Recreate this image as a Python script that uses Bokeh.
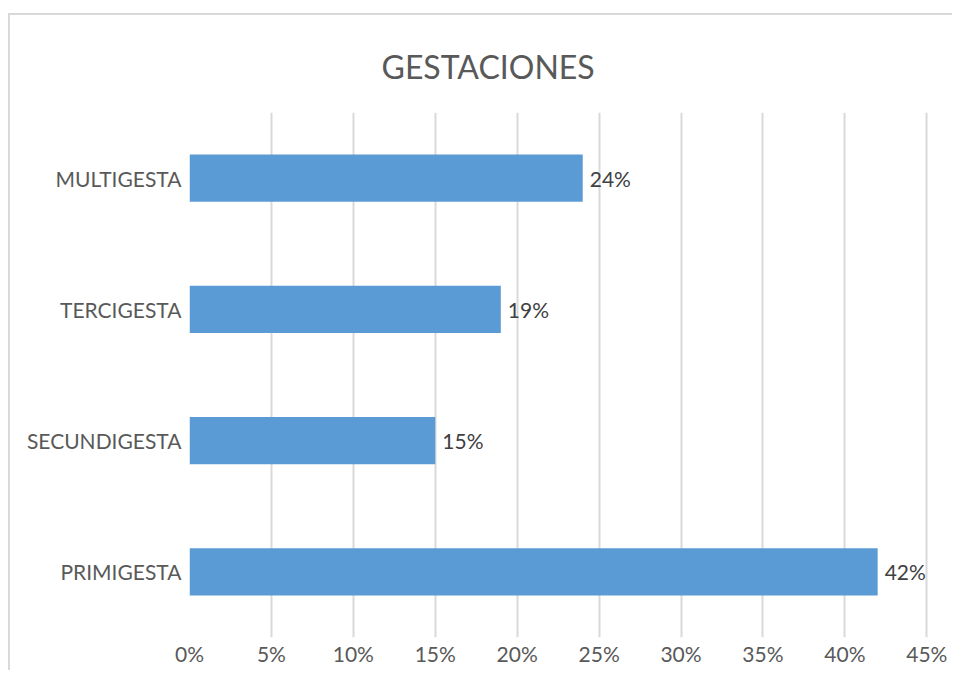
from bokeh.plotting import figure
from bokeh.models import ColumnDataSource, Range1d, FixedTicker, Title
from bokeh.core.properties import value
from bokeh.embed import file_html
from bokeh.resources import INLINE

# data (bottom to top as drawn)
categories = ["PRIMIGESTA", "SECUNDIGESTA", "TERCIGESTA", "MULTIGESTA"]
percentages = [42, 15, 19, 24]
value_labels = ["42%", "15%", "19%", "24%"]
x_ticks = [0, 5, 10, 15, 20, 25, 30, 35, 40, 45]
x_tick_labels = {t: f"{t}%" for t in x_ticks}
title_text = "GESTACIONES"

FONT = "Lato"

y_pos = [i + 0.5 for i in range(len(categories))]
src = ColumnDataSource(dict(y=y_pos, pct=percentages, lab=value_labels))

p = figure(
    width=944, height=657,
    y_range=Range1d(0, len(categories)),
    x_range=Range1d(0, 46.69),
    output_backend="svg", toolbar_location=None,
    min_border_left=179, min_border_right=0, min_border_top=97, min_border_bottom=35,
)
p.styles = {"margin-left": "8px", "margin-top": "13px",
            "border-left": "2px solid #d9d9d9", "border-top": "2px solid #d9d9d9"}
p.outline_line_color = None
p.background_fill_color = "white"
p.border_fill_color = "white"

p.title = Title(text=title_text, align="left", offset=192, standoff=54,
                text_font=FONT, text_font_size="32px", text_font_style="normal",
                text_color="#595959")

p.hbar(y="y", right="pct", height=0.36, source=src, color="#5b9bd5", line_color=None)

p.text(x="pct", y="y", text="lab", source=src, x_offset=7,
       text_baseline="middle", text_align="left",
       text_font=value(FONT), text_font_size="21px", text_color="#404040")

p.xaxis.ticker = FixedTicker(ticks=x_ticks)
p.xaxis.major_label_overrides = x_tick_labels
p.xaxis.axis_line_color = None
p.xaxis.major_tick_line_color = None
p.xaxis.minor_tick_line_color = None
p.xaxis.major_tick_out = 0
p.xaxis.major_label_standoff = 3
p.xaxis.major_label_text_font = FONT
p.xaxis.major_label_text_font_size = "21px"
p.xaxis.major_label_text_color = "#595959"

p.yaxis.ticker = FixedTicker(ticks=y_pos)
p.yaxis.major_label_overrides = {y: c for y, c in zip(y_pos, categories)}
p.yaxis.axis_line_color = None
p.yaxis.major_tick_line_color = None
p.yaxis.minor_tick_line_color = None
p.yaxis.major_tick_out = 0
p.yaxis.major_label_standoff = 8
p.yaxis.major_label_text_font = FONT
p.yaxis.major_label_text_font_size = "21px"
p.yaxis.major_label_text_color = "#595959"

p.xgrid.grid_line_color = "#d9d9d9"
p.xgrid.grid_line_width = 2
p.ygrid.grid_line_color = None

open("out.html", "w").write(file_html(p, INLINE))
